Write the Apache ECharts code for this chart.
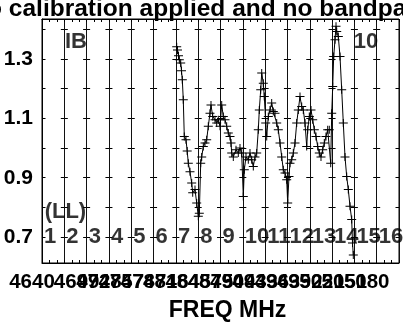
<!DOCTYPE html>
<html>
<head>
<meta charset="utf-8">
<script src="https://cdn.jsdelivr.net/npm/echarts@6/dist/echarts.min.js"></script>
<style>html,body{margin:0;padding:0;background:#fff}#c{width:403px;height:322px}</style>
</head>
<body>
<div id="c"></div>
<script>
// Channel position in spectral-window units (window k spans k-1..k)
var chanPos = [6.037,6.073,6.118,6.154,6.216,6.252,6.288,6.332,6.377,6.454,6.507,6.557,6.633,6.709,6.754,6.857,6.933,7.005,7.050,7.113,
7.157,7.229,7.305,7.381,7.453,7.529,7.574,7.650,7.754,7.829,7.901,7.978,8.054,8.126,8.202,8.278,8.350,8.426,8.471,8.502,
8.574,8.695,8.798,8.874,8.950,9.022,9.067,9.143,9.246,9.322,9.398,9.470,9.546,9.622,9.694,9.739,9.802,9.847,9.918,9.963,
10.026,10.071,10.143,10.218,10.294,10.366,10.443,10.519,10.591,10.667,10.743,10.814,10.891,10.967,11.011,11.070,11.115,11.191,11.263,11.339,
11.415,11.487,11.563,11.639,11.711,11.787,11.863,11.908,11.980,12.056,12.132,12.204,12.280,12.356,12.428,12.504,12.580,12.652,12.728,12.804,
12.876,12.939,12.984,13.029,13.073,13.132,13.177,13.208,13.280,13.356,13.432,13.504,13.580,13.656,13.728,13.804,13.880,13.916,13.952];
var amp = [1.341,1.33,1.31,1.297,1.286,1.26,1.23,1.162,1.039,1.028,0.99,0.949,0.92,0.882,0.849,0.86,0.815,0.77,0.78,0.949,
0.97,1.005,1.017,1.028,1.073,1.117,1.145,1.106,1.095,1.084,1.095,1.073,1.145,1.106,1.095,1.073,1.05,1.039,1.017,0.983,
0.97,0.994,0.983,1.0,0.983,0.837,0.927,0.97,0.96,0.983,0.96,0.938,0.97,0.983,1.061,1.128,1.196,1.252,1.218,1.173,
1.084,1.039,1.106,1.128,1.151,1.123,1.117,1.084,1.061,1.017,0.97,0.927,0.916,0.893,0.815,0.904,0.949,0.96,0.983,1.017,
1.084,1.128,1.173,1.14,1.128,1.084,1.005,1.061,1.106,1.128,1.095,1.061,1.039,1.005,0.983,0.97,0.994,1.017,1.039,1.061,
1.061,0.949,1.117,1.207,1.308,1.364,1.41,1.392,1.375,1.308,1.196,1.084,0.97,0.904,0.86,0.804,0.759,0.68,0.64];
var freqLabels = ['4640','4669','4699','4728','4757','4787','4816','4845','4875','4904','4933','4963','4992','5021','5051','5080'];
var winLabels = ['1','2','3','4','5','6','7','8','9','10','11','12','13','14','15','16'];
var yTicks = [0.7,0.8,0.9,1.0,1.1,1.2,1.3,1.4];
var yLabels = [0.7,0.9,1.1,1.3];
var annoText = ['IB','10','(LL)'];
var annoX = [1.52,14.52,1.05];
var annoY = [1.357,1.357,0.784];

var FONT = 'Liberation Sans';
var W = 357/16;
var chart = echarts.init(document.getElementById('c'), null, {renderer:'canvas'});
var lineData = chanPos.map(function(x,i){return [x, amp[i]];});
var winData = winLabels.map(function(t,i){return {value:[i, yLabels[0]], name:t};});
var annoData = annoText.map(function(t,i){return {value:[annoX[i], annoY[i]], name:t};});
var plus = 'path://M0,3.5H9V4.5H0Z M4,0H5V8H4Z';

chart.setOption({
  animation:false,
  title:{text:'No calibration applied and no bandpass', left:'center', top:-8,
    textStyle:{fontFamily:FONT, fontSize:24.5, fontWeight:'bold', color:'#000'}},
  grid:{left:42, right:4, top:19, bottom:59, containLabel:false, outerBoundsMode:'none',
    show:true, borderColor:'#000', borderWidth:1, backgroundColor:'transparent'},
  xAxis:[{
    type:'value', min:0, max:16, interval:1, position:'bottom',
    name:'FREQ MHz', nameLocation:'middle', nameGap:36,
    nameTextStyle:{fontFamily:FONT, fontSize:23, fontWeight:'bold', color:'#000', padding:[0,0,0,14]},
    axisLine:{show:true, lineStyle:{color:'#000', width:1}},
    axisTick:{show:true, inside:true, length:3, lineStyle:{color:'#000'}},
    minorTick:{show:true, splitNumber:3, length:3, lineStyle:{color:'#000'}},
    splitLine:{show:true, lineStyle:{color:'#111', width:1}},
    axisLabel:{show:true, margin:9, fontFamily:FONT, fontSize:20.5, fontWeight:'bold', color:'#000',
      padding:[0,20,0,0], showMaxLabel:true, showMinLabel:true,
      formatter:function(v){var k=Math.round(v); return (k<freqLabels.length)?freqLabels[k]:'';}}
  },{
    type:'value', min:0, max:16, interval:1, position:'top',
    axisLine:{show:true, lineStyle:{color:'#000'}},
    axisTick:{show:true, inside:true, length:3, lineStyle:{color:'#000'}},
    minorTick:{show:true, splitNumber:3, length:3, lineStyle:{color:'#000'}},
    splitLine:{show:false}, axisLabel:{show:false}
  }],
  yAxis:{
    type:'value', min:0.613, max:1.434,
    axisLine:{show:true, lineStyle:{color:'#000'}},
    axisTick:{show:false, customValues:yTicks},
    splitLine:{show:true, lineStyle:{color:'#000', width:1, type:[7, W-7], dashOffset:3.5}},
    axisLabel:{show:true, customValues:yLabels, margin:9, fontFamily:FONT, fontSize:21, fontWeight:'bold', color:'#000',
      formatter:function(v){return v.toFixed(1);}}
  },
  series:[{
    type:'line', data:lineData, symbol:plus, symbolSize:[9,8], showAllSymbol:true,
    lineStyle:{color:'#000', width:1}, itemStyle:{color:'#000', borderWidth:0}, z:5
  },{
    type:'scatter', data:winData, symbolSize:0, silent:true,
    label:{show:true, position:'right', distance:2, formatter:function(p){return p.name;},
      fontFamily:FONT, fontSize:22, fontWeight:'bold', color:'#000'}
  },{
    type:'scatter', data:annoData, symbolSize:0, silent:true,
    label:{show:true, position:'inside', formatter:function(p){return p.name;},
      fontFamily:FONT, fontSize:22, fontWeight:'bold', color:'#000'}
  }]
});
</script>
</body>
</html>
